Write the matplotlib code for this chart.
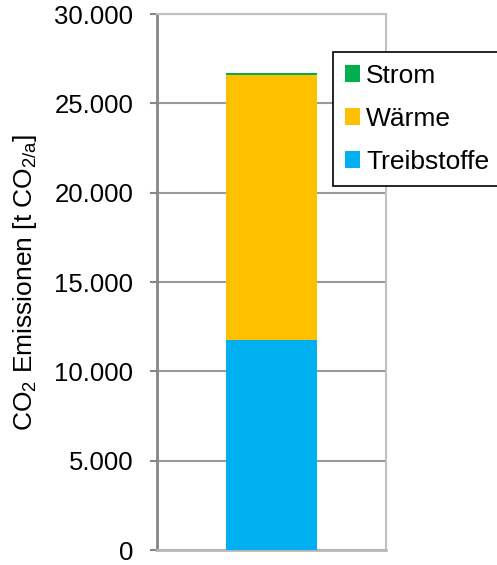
import matplotlib
matplotlib.use('Agg')
import matplotlib.pyplot as plt
from matplotlib.ticker import FuncFormatter

plt.rcParams['font.family'] = 'Liberation Sans'
plt.rcParams['mathtext.fontset'] = 'custom'
plt.rcParams['mathtext.rm'] = 'Liberation Sans'
plt.rcParams['mathtext.it'] = 'Liberation Sans'

# Data
categories = ['Treibstoffe', 'Wärme', 'Strom']
values = [11750, 14840, 110]
colors = ['#00B0F0', '#FFC000', '#00B050']
y_ticks = [0, 5000, 10000, 15000, 20000, 25000, 30000]

fig = plt.figure(figsize=(4.97, 5.65), dpi=100)
ax = fig.add_axes([157 / 497, 1 - 550 / 565, 229 / 497, 536 / 565])

bottom = 0
handles = []
for name, val, col in zip(categories, values, colors):
    b = ax.bar(0, val, width=0.4, bottom=bottom, color=col, label=name, zorder=3)
    handles.append(b)
    bottom += val

ax.set_xlim(-0.5, 0.5)
ax.set_ylim(0, 30000)
ax.set_yticks(y_ticks)
ax.yaxis.set_major_formatter(FuncFormatter(lambda v, p: f'{int(v):,}'.replace(',', '.')))
ax.set_xticks([])
ax.tick_params(axis='y', labelsize=18.5, length=5, width=1.5, color='#868686', pad=12)

ax.grid(axis='y', color='#999999', linewidth=1.5, zorder=0)
ax.spines['left'].set_color('#868686')
ax.spines['left'].set_linewidth(2)
ax.spines['bottom'].set_color('#b8b8b8')
ax.spines['bottom'].set_linewidth(2)
ax.spines['top'].set_color('#c0c0c0')
ax.spines['top'].set_linewidth(1.5)
ax.spines['right'].set_color('#c0c0c0')
ax.spines['right'].set_linewidth(1.5)

fig.text(25 / 497, 0.501, r'CO$_2$ Emissionen [t CO$_{2/a}$]', rotation=90,
         ha='center', va='center', fontsize=19)

leg = ax.legend(handles[::-1], categories[::-1], loc='upper left',
                bbox_to_anchor=(333 / 497, 1 - 52 / 565), bbox_transform=fig.transFigure,
                borderaxespad=0, fontsize=19, handlelength=0.58, handleheight=0.58,
                handletextpad=0.23, labelspacing=0.72, borderpad=0.45,
                fancybox=False, framealpha=1, edgecolor='black')
leg.get_frame().set_linewidth(1.2)

fig.savefig('out.png', dpi=100)
